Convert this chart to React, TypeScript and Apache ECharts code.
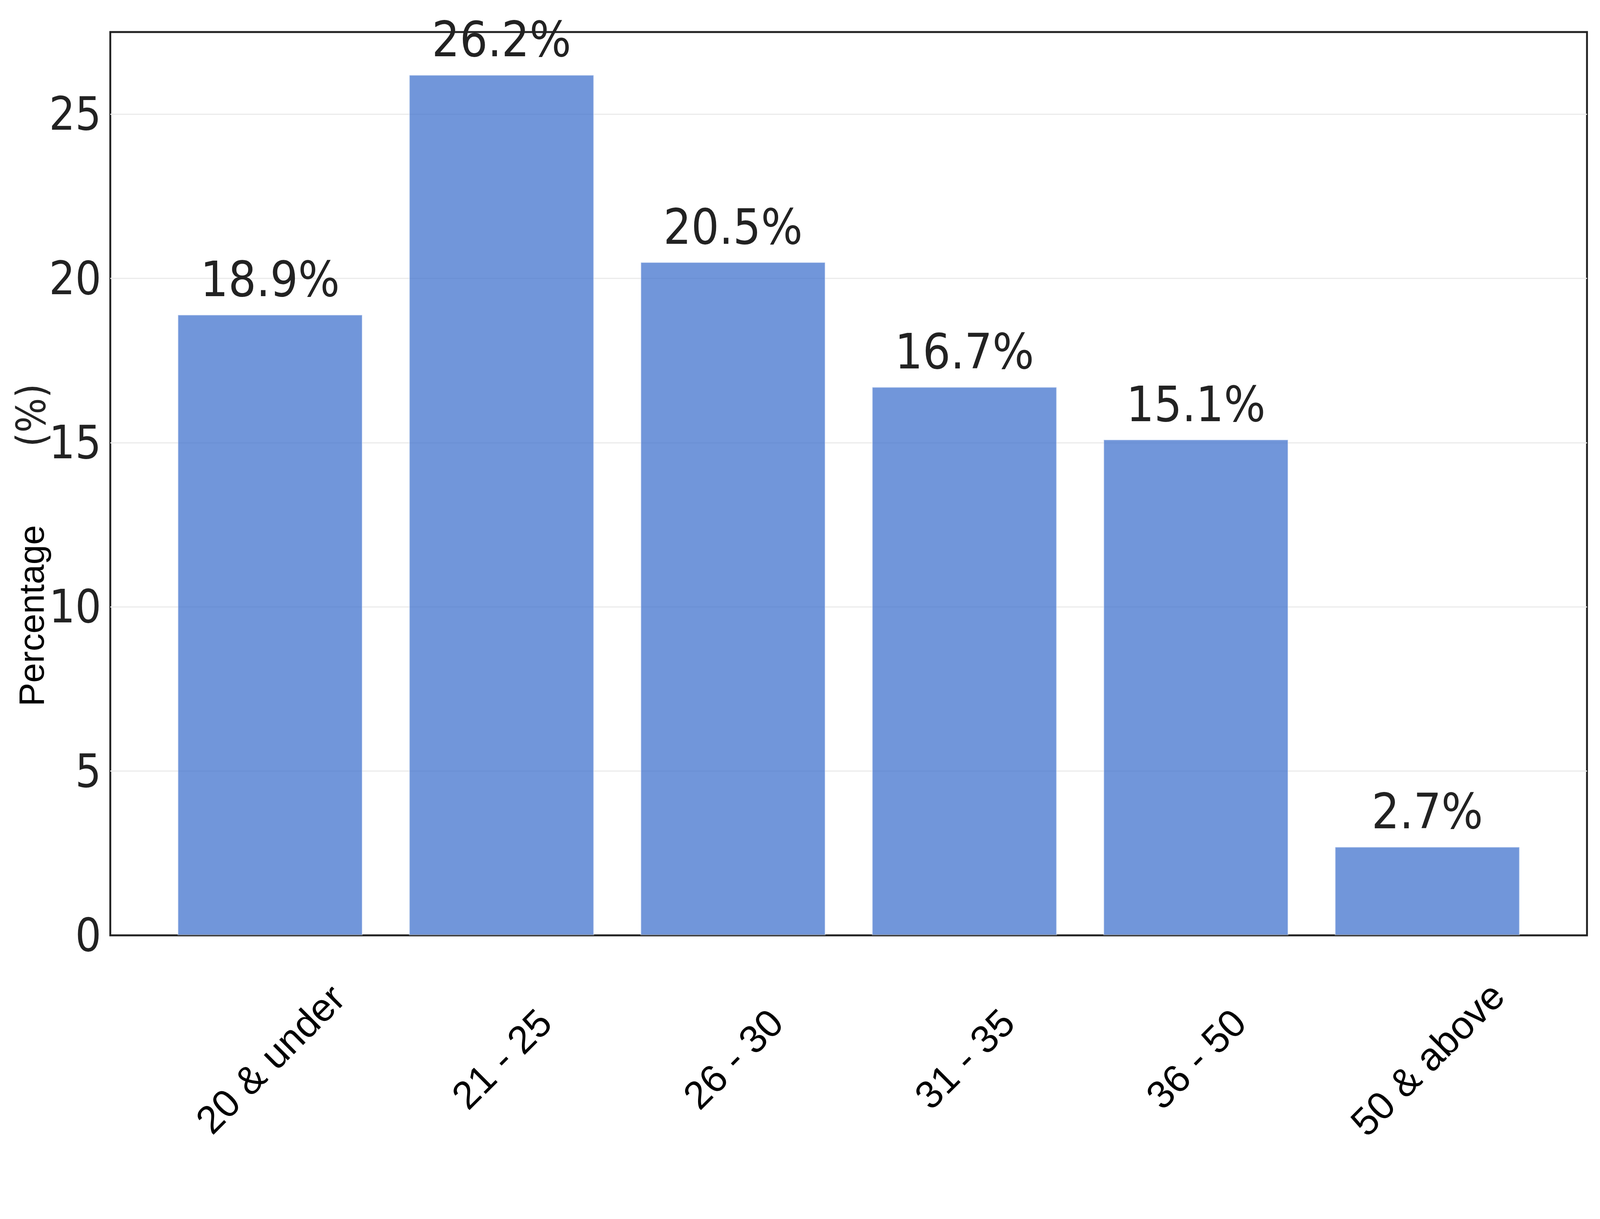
import React, { useEffect, useRef } from 'react';
import * as echarts from 'echarts';

const ageGroups = ['20 & under', '21 - 25', '26 - 30', '31 - 35', '36 - 50', '50 & above'];
const shares = [18.9, 26.2, 20.5, 16.7, 15.1, 2.7];
const yTicks = [0, 5, 10, 15, 20, 25];

const NARROW = "'Liberation Sans Narrow', 'DejaVu Sans Condensed', 'Liberation Sans', sans-serif";
const ARIAL = "'Liberation Sans', Arial, sans-serif";

// layout numbers below are measured in the reference picture (6398 x 3120)
const REF_W = 6398;
const REF_H = 3120;

const App: React.FC = () => {
  const chartRef = useRef<HTMLDivElement>(null);

  useEffect(() => {
    const el = chartRef.current;
    if (!el) return;
    const chart = echarts.init(el, null, { renderer: 'svg' });

    const sx = el.clientWidth / REF_W;
    const sy = el.clientHeight / REF_H;
    const fs = Math.sqrt(sx * sy); // font scale, between the two axes

    const plotTop = 82 * sy;
    const plotHeight = 2312 * sy;
    const unit = 925.5 * sx; // one category step
    const barLeft = 1080 * sx - unit / 2;

    const option = {
      animation: false,
      backgroundColor: '#ffffff',
      grid: [
        {
          left: 441 * sx,
          top: plotTop,
          width: 5905 * sx,
          height: plotHeight,
          show: true,
          borderColor: '#222222',
          borderWidth: 6 * fs,
          backgroundColor: 'transparent'
        },
        {
          left: barLeft,
          top: plotTop,
          width: unit * ageGroups.length,
          height: plotHeight
        }
      ],
      xAxis: [
        { type: 'value', gridIndex: 0, show: false },
        {
          type: 'category',
          gridIndex: 1,
          data: ageGroups,
          axisLine: { show: false },
          axisTick: { show: false },
          axisLabel: {
            rotate: 45,
            align: 'center',
            verticalAlign: 'middle',
            margin: 316 * sy,
            fontFamily: ARIAL,
            fontSize: 125 * fs,
            color: '#000000'
          }
        }
      ],
      yAxis: [
        {
          type: 'value',
          gridIndex: 0,
          min: 0,
          max: 27.5,
          interval: 5,
          axisLine: { show: false },
          axisTick: { show: false },
          axisLabel: {
            margin: 36 * sx,
            fontFamily: NARROW,
            fontSize: 146 * fs,
            color: '#222222',
            showMaxLabel: false,
            formatter: (v: number) => (yTicks.includes(v) ? String(v) : '')
          },
          splitLine: {
            showMinLine: false,
            showMaxLine: false,
            lineStyle: { color: '#ebebeb', width: 4 * fs }
          }
        },
        { type: 'value', gridIndex: 1, min: 0, max: 27.5, show: false, splitLine: { show: false } }
      ],
      graphic: [
        {
          type: 'text',
          x: 125 * sx,
          y: 1395 * sy,
          rotation: Math.PI / 2,
          style: {
            text: '{a|Percentage}{b|(%)}',
            align: 'center',
            verticalAlign: 'middle',
            rich: {
              a: { fontFamily: ARIAL, fontSize: 108 * fs * 1.05, fill: '#000000' },
              b: {
                fontFamily: NARROW,
                fontSize: 130 * fs,
                fill: '#222222',
                padding: [0, 0, 0, 200 * sy]
              }
            }
          }
        }
      ],
      series: [
        {
          type: 'bar',
          xAxisIndex: 1,
          yAxisIndex: 1,
          data: shares,
          barWidth: '80%',
          itemStyle: {
            color: 'rgba(58,109,204,0.72)',
            borderColor: 'rgba(255,255,255,0.4)',
            borderWidth: 3 * fs
          },
          label: {
            show: true,
            position: 'top',
            distance: 28 * sy,
            fontFamily: NARROW,
            fontSize: 156 * fs,
            color: '#222222',
            formatter: (p: { value: number }) => `${p.value.toFixed(1)}%`
          }
        }
      ]
    };

    chart.setOption(option);

    return () => {
      chart.dispose();
    };
  }, []);

  return (
    <div
      ref={chartRef}
      style={{ position: 'fixed', left: 0, top: 0, width: '100vw', height: '100vh' }}
    />
  );
};

export default App;
